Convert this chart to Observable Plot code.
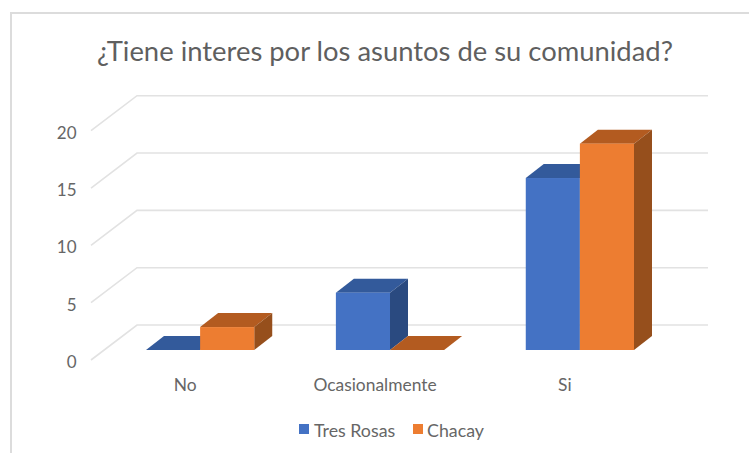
<!DOCTYPE html>
<html lang="es">
<head>
<meta charset="utf-8">
<script src="https://cdn.jsdelivr.net/npm/d3@7"></script>
<script src="https://cdn.jsdelivr.net/npm/@observablehq/plot@0.6"></script>
<style>
  html, body { margin: 0; padding: 0; background: #fff; }
  #page { position: relative; width: 749px; height: 453px; overflow: hidden; font-family: Lato, "Noto Sans", sans-serif; }
  #frame { position: absolute; left: 10px; top: 12px; right: -4px; bottom: -4px; border: 2px solid #dcdcdc; pointer-events: none; }
  #title { height: 70px; width: 770px; padding-top: 0; box-sizing: border-box; text-align: center; color: #5f5f5f; font-size: 27.4px; line-height: 101px; white-space: nowrap; }
  #chart svg { display: block; }
  #legend { position: relative; height: 53px; color: #666; font-size: 17.8px; }
  #legend .sw { position: absolute; top: 24px; width: 10px; height: 10px; }
  #legend .tx { position: absolute; top: 20px; line-height: 20px; white-space: nowrap; }
</style>
</head>
<body>
<div id="page">
  <div id="frame"></div>
  <div id="title"></div>
  <div id="chart"></div>
  <div id="legend"></div>
</div>
<script>
const chartTitle = "¿Tiene interes por los asuntos de su comunidad?";
const categories = ["No", "Ocasionalmente", "Si"];
const seriesNames = ["Tres Rosas", "Chacay"];
const tresRosas = [0, 5, 15];
const chacay = [2, 0, 18];
const yTicks = [0, 5, 10, 15, 20];

const frontColors = ["#4472c4", "#ed7d31"];
const topColors = ["#335a9b", "#b35b20"];
const sideColors = ["#2a4a80", "#964f1c"];
const depthX = 18, depthY = 14;

const table = categories.flatMap((c, i) => [
  {category: c, series: seriesNames[0], value: tresRosas[i]},
  {category: c, series: seriesNames[1], value: chacay[i]}
]);

document.getElementById("title").textContent = chartTitle;

// 3D faces added behind each bar's front rectangle
function boxFaces(index, scales, values, dimensions, context, next) {
  const g = next(index, scales, values, dimensions, context);
  const bw = scales.x.bandwidth();
  const rects = new Map(Array.from(g.querySelectorAll("rect"), (r) => [r.__data__, r]));
  for (const i of index) {
    const s = seriesNames.indexOf(table[i].series);
    const x0 = values.x[i], x1 = x0 + bw;
    const yb = Math.max(values.y1[i], values.y2[i]), yt = Math.min(values.y1[i], values.y2[i]);
    const faces = [
      [topColors[s], [[x0, yt], [x1, yt], [x1 + depthX, yt - depthY], [x0 + depthX, yt - depthY]]],
      [sideColors[s], [[x1, yt], [x1 + depthX, yt - depthY], [x1 + depthX, yb - depthY], [x1, yb]]]
    ];
    for (const [color, pts] of faces) {
      const p = document.createElementNS("http://www.w3.org/2000/svg", "polygon");
      p.setAttribute("points", pts.map((d) => d.join(",")).join(" "));
      p.setAttribute("fill", color);
      const rect = rects.get(i);
      rect ? rect.parentNode.insertBefore(p, rect) : g.appendChild(p);
    }
  }
  return g;
}

// Wall gridlines, drawn in the first facet so they sit behind every bar:
// diagonal on the side wall, then straight along the back wall
function wallLines(index, scales, values, dimensions, context) {
  const g = document.createElementNS("http://www.w3.org/2000/svg", "g");
  const left = dimensions.marginLeft;
  const right = scales.fx(categories[categories.length - 1]) + scales.fx.bandwidth() + 74;
  for (const i of index) {
    const y = values.y[i];
    const p = document.createElementNS("http://www.w3.org/2000/svg", "polyline");
    p.setAttribute("points", `${left - 55},${y + 10} ${left - 9},${y - 25} ${right},${y - 25}`);
    p.setAttribute("fill", "none");
    p.setAttribute("stroke", "#e2e2e2");
    p.setAttribute("stroke-width", 1.6);
    g.appendChild(p);
  }
  return g;
}

const plot = Plot.plot({
  width: 749,
  height: 330,
  marginLeft: 146,
  marginRight: 115,
  marginTop: 50.7,
  marginBottom: 50,
  style: {fontFamily: "Lato, 'Noto Sans', sans-serif", background: "transparent", overflow: "visible"},
  fx: {domain: categories, paddingInner: 0.43, paddingOuter: 0, round: false, axis: null, label: null},
  x: {domain: seriesNames, padding: 0, round: false, axis: null, label: null},
  y: {domain: [0, 20], axis: null, label: null},
  color: {domain: seriesNames, range: frontColors},
  marks: [
    Plot.ruleY(yTicks, {y: (d) => d, fx: () => categories[0], render: wallLines}),
    Plot.barY(table, {fx: "category", x: "series", y: "value", fill: "series", render: boxFaces}),
    Plot.axisY({ticks: yTicks, tickFormat: (d) => d, anchor: "left", tickSize: 0, tickPadding: 70, dy: 12, fontSize: 17, fill: "#666", label: null}),
    Plot.axisFx({anchor: "bottom", tickSize: 0, tickPadding: 28, dx: -15.5, fontSize: 17.4, fill: "#666", label: null})
  ]
});
document.getElementById("chart").appendChild(plot);

const legend = d3.select("#legend");
const swatchLeft = [299, 413], textLeft = [314, 427];
seriesNames.forEach((name, i) => {
  legend.append("div").attr("class", "sw").style("left", swatchLeft[i] + "px").style("background", frontColors[i]);
  legend.append("div").attr("class", "tx").style("left", textLeft[i] + "px").text(name);
});
</script>
</body>
</html>
